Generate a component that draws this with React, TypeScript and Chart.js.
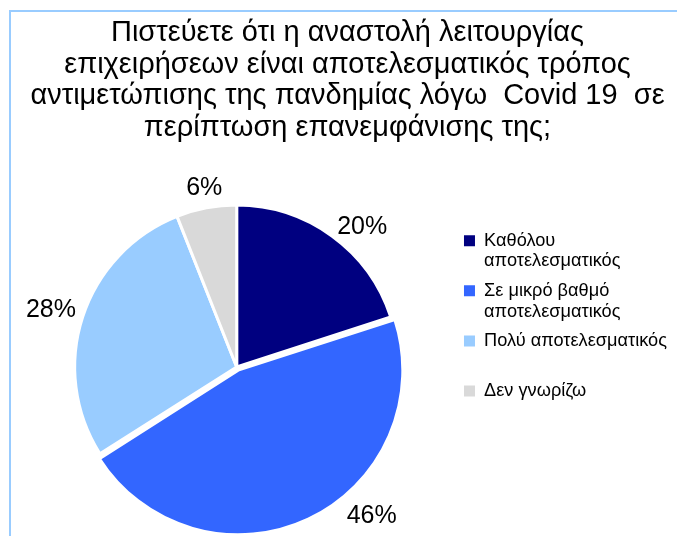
import React, { useEffect, useRef } from 'react';
import { Chart, registerables } from 'chart.js';

Chart.register(...registerables);

const titleLines = [
  'Πιστεύετε ότι η αναστολή λειτουργίας',
  'επιχειρήσεων είναι αποτελεσματικός τρόπος',
  'αντιμετώπισης της πανδημίας λόγω  Covid 19  σε',
  'περίπτωση επανεμφάνισης της;',
];

const categories: string[][] = [
  ['Καθόλου', 'αποτελεσματικός'],
  ['Σε μικρό βαθμό', 'αποτελεσματικός'],
  ['Πολύ αποτελεσματικός', ''],
  ['Δεν γνωρίζω', ''],
];

const values = [20, 46, 28, 6];

const colors = ['#000080', '#3366FF', '#99CCFF', '#D9D9D9'];

const FONT = "'Liberation Sans', Arial, sans-serif";

// label placement tweaks (degrees clockwise, extra distance beyond radius)
const labelAngleNudge = [6, -16.9, -0.9, 0.5];
const labelDistance = [25.6, 39.3, 32.3, 19.6];

const pctLabelsPlugin = {
  id: 'pctLabels',
  afterDatasetsDraw(chart: any) {
    const ctx = chart.ctx;
    const meta = chart.getDatasetMeta(0);
    const data = chart.data.datasets[0].data as number[];
    const total = data.reduce((a, b) => a + b, 0);
    ctx.save();
    ctx.font = `25px ${FONT}`;
    ctx.fillStyle = '#000000';
    ctx.textAlign = 'center';
    ctx.textBaseline = 'middle';
    meta.data.forEach((arc: any, i: number) => {
      const p = arc.getProps(['x', 'y', 'startAngle', 'endAngle', 'outerRadius'], true);
      const ang = (p.startAngle + p.endAngle) / 2 + (labelAngleNudge[i] * Math.PI) / 180;
      const d = p.outerRadius + labelDistance[i];
      const x = p.x + Math.cos(ang) * d;
      const y = p.y + Math.sin(ang) * d;
      const pct = Math.round((data[i] / total) * 100);
      ctx.fillText(pct + '%', x, y);
    });
    ctx.restore();
  },
};

export default function App() {
  const ref = useRef<HTMLCanvasElement | null>(null);

  useEffect(() => {
    if (!ref.current) return;
    const chart = new Chart(ref.current, {
      type: 'pie',
      data: {
        labels: categories as any,
        datasets: [
          {
            data: values,
            backgroundColor: colors,
            borderColor: '#FFFFFF',
            borderWidth: 3,
            offset: [0, 14, 0, 0],
          },
        ],
      },
      options: {
        animation: false,
        responsive: false,
        devicePixelRatio: 1,
        radius: 162,
        layout: { padding: { left: 18, right: 0, top: 2, bottom: 0 } },
        plugins: {
          tooltip: { enabled: false },
          title: {
            display: true,
            text: titleLines,
            color: '#000000',
            font: { family: FONT, size: 29, weight: 'normal', lineHeight: 31.5 / 29 },
            padding: { top: 15.5, bottom: 54.5 },
          },
          legend: {
            position: 'right',
            align: 'start',
            title: {
              display: true,
              text: ' ',
              font: { family: FONT, size: 12, lineHeight: 1 },
              padding: { top: 209, bottom: 0 },
            },
            labels: {
              color: '#000000',
              boxWidth: 11,
              boxHeight: 11,
              padding: 8.6,
              font: { family: FONT, size: 18.2, lineHeight: 1.14 },
              generateLabels: (c: any) =>
                (c.data.labels as any[]).map((label, i) => ({
                  text: label,
                  fillStyle: colors[i],
                  strokeStyle: colors[i],
                  lineWidth: 0,
                  hidden: false,
                  index: i,
                  fontColor: '#000000',
                })),
            },
          },
        },
      },
      plugins: [pctLabelsPlugin],
    });
    return () => chart.destroy();
  }, []);

  return (
    <div
      style={{
        position: 'absolute',
        left: 0,
        top: 0,
        width: 677,
        height: 536,
        overflow: 'hidden',
        background: '#FFFFFF',
      }}
    >
      <div
        style={{
          position: 'absolute',
          left: 9,
          top: 10,
          width: 700,
          height: 600,
          borderLeft: '2px solid #99CCFF',
          borderTop: '2px solid #99CCFF',
        }}
      />
      <canvas
        ref={ref}
        width={677}
        height={536}
        style={{ position: 'absolute', left: 0, top: 0, width: 677, height: 536 }}
      />
    </div>
  );
}
